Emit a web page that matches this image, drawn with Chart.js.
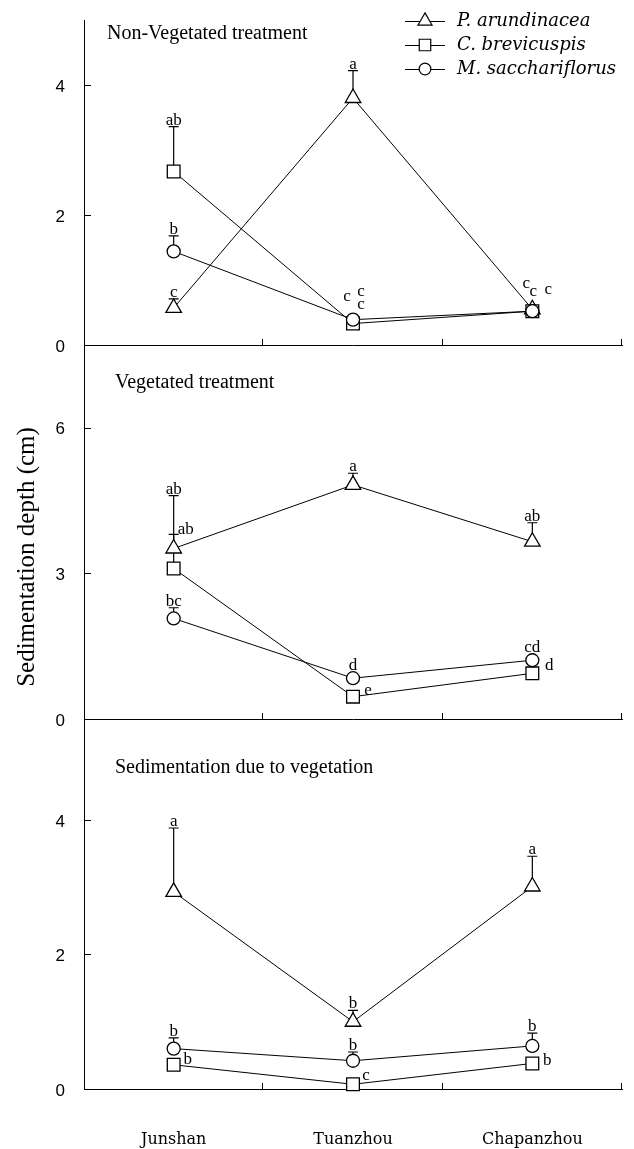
<!DOCTYPE html>
<html>
<head>
<meta charset="utf-8">
<script src="https://cdn.jsdelivr.net/npm/chart.js@4.4.0/dist/chart.umd.min.js"></script>
<style>
    html, body { margin: 0; padding: 0; background: #fff; }
    #wrap { position: relative; width: 634px; height: 1149px; }
    #wrap canvas { position: absolute; left: 0; top: 0; }
</style>
</head>
<body>
<div id="wrap">
    <canvas id="nonVeg" width="634" height="1149"></canvas>
    <canvas id="veg" width="634" height="1149"></canvas>
    <canvas id="due" width="634" height="1149"></canvas>
</div>
<script>
const sites = ["Junshan", "Tuanzhou", "Chapanzhou"];
const species = ["P. arundinacea", "C. brevicuspis", "M. sacchariflorus"];

// non-vegetated treatment
const nonVegP = [0.57, 3.80, 0.55];
const nonVegC = [2.67, 0.33, 0.52];
const nonVegM = [1.44, 0.39, 0.52];
const nonVegErrP = [0.71, 4.22, null]; // top of the error bar
const nonVegErrC = [3.36, null, null];
const nonVegErrM = [1.68, null, null];
const nonVegLetP = ["c", "a", "c"];
const nonVegLetC = ["ab", "c", "c"];
const nonVegLetM = ["b", "c\nc", "c"];
const nonVegTicks = [0, 2, 4];

// vegetated treatment
const vegP = [3.51, 4.82, 3.65];
const vegC = [3.10, 0.46, 0.94];
const vegM = [2.07, 0.84, 1.21];
const vegErrP = [4.60, 5.06, 4.04];
const vegErrC = [3.80, null, null];
const vegErrM = [2.29, null, null];
const vegLetP = ["ab", "a", "ab"];
const vegLetC = ["ab", "e", "d"];
const vegLetM = ["bc", "d", "cd"];
const vegTicks = [0, 3, 6];

// sedimentation due to vegetation
const dueP = [2.93, 1.00, 3.01];
const dueC = [0.36, 0.07, 0.38];
const dueM = [0.60, 0.42, 0.64];
const dueErrP = [3.88, 1.17, 3.46];
const dueErrC = [null, null, null];
const dueErrM = [0.76, 0.55, 0.83];
const dueLetP = ["a", "b", "a"];
const dueLetC = ["b", "c", "b"];
const dueLetM = ["b", "b", "b"];
const dueTicks = [0, 2, 4];

const pointStyles = ["triangle", "rect", "circle"];
const pointRadii = [9, 9, 6.5];
const drawOrder = [2, 1, 0];

const SERIF = "'Liberation Serif', 'Times New Roman', serif";

const decor = {
    id: "decor",

    beforeDatasetsDraw(chart, args, opts) {
        const { ctx } = chart;
        const x = chart.scales.x;
        const y = chart.scales.y;

        ctx.save();
        ctx.strokeStyle = "#000";
        ctx.lineWidth = 1.2;
        opts.errors.forEach((tops, i) => {
            const vals = chart.data.datasets[i].data;
            tops.forEach((top, j) => {
                if (top == null) return;
                const px = x.getPixelForValue(j);
                const y1 = y.getPixelForValue(top);
                ctx.beginPath();
                ctx.moveTo(px, y.getPixelForValue(vals[j]));
                ctx.lineTo(px, y1);
                ctx.moveTo(px - 5, y1);
                ctx.lineTo(px + 5, y1);
                ctx.stroke();
            });
        });
        ctx.restore();
    },

    afterDraw(chart, args, opts) {
        const { ctx, chartArea } = chart;
        const x = chart.scales.x;
        const y = chart.scales.y;

        ctx.save();
        ctx.strokeStyle = "#000";
        ctx.fillStyle = "#000";
        ctx.lineWidth = 1;

        // ticks pointing inward
        ctx.beginPath();
        y.ticks.forEach((t) => {
            const py = Math.round(y.getPixelForValue(t.value)) + 0.5;
            ctx.moveTo(chartArea.left, py);
            ctx.lineTo(chartArea.left + 7, py);
        });
        sites.forEach((s, j) => {
            const px = Math.round(x.getPixelForValue(j + 0.5)) - 0.5;
            ctx.moveTo(px, chartArea.bottom);
            ctx.lineTo(px, chartArea.bottom - 6);
        });
        ctx.stroke();

        // significance letters
        ctx.font = "17px " + SERIF;
        opts.letters.forEach((row, i) => {
            const vals = chart.data.datasets[i].data;
            row.forEach((text, j) => {
                if (!text) return;
                const px = x.getPixelForValue(j);
                const py = y.getPixelForValue(vals[j]);
                const off = opts.offsets[i + ":" + j];
                ctx.textAlign = "center";
                if (off) {
                    ctx.textBaseline = "middle";
                    text.split("\n").forEach((line, k) => {
                        ctx.fillText(line, px + off.dx, py + off.dy + k * 13);
                    });
                } else {
                    const top = opts.errors[i][j];
                    const anchor = top != null ? y.getPixelForValue(top) : py - pointRadii[i];
                    ctx.textBaseline = "alphabetic";
                    ctx.fillText(text, px, anchor - 2);
                }
            });
        });

        // panel title
        ctx.font = "20px " + SERIF;
        ctx.textAlign = "left";
        ctx.textBaseline = "alphabetic";
        ctx.fillText(opts.title, opts.titleX, opts.titleY);

        if (opts.yTitle) {
            ctx.save();
            ctx.translate(27, 557);
            ctx.rotate(-Math.PI / 2);
            ctx.font = "25px " + SERIF;
            ctx.textAlign = "center";
            ctx.textBaseline = "middle";
            ctx.fillText(opts.yTitle, 0, 0);
            ctx.restore();
        }

        if (opts.legend) {
            chart.data.datasets.forEach((ds, i) => {
                const ry = 21 + i * 24;
                ctx.beginPath();
                ctx.moveTo(405, ry + 0.5);
                ctx.lineTo(445, ry + 0.5);
                ctx.stroke();
                ctx.fillStyle = "#fff";
                ctx.lineWidth = 1.2;
                Chart.helpers.drawPoint(ctx, {
                    pointStyle: ds.pointStyle,
                    radius: ds.pointRadius * 0.9,
                    borderWidth: 1.2,
                }, 425, ry);
                ctx.fillStyle = "#000";
                ctx.lineWidth = 1;
                ctx.font = "italic 18px 'DejaVu Serif', serif";
                ctx.textAlign = "left";
                ctx.textBaseline = "middle";
                ctx.fillText(ds.label, 457, ry);
            });
        }
        ctx.restore();
    },
};

function makePanel(id, cfg) {
    const xHeight = cfg.showX ? 59 : 0;

    new Chart(document.getElementById(id), {
        type: "line",

        data: {
            labels: sites,

            datasets: species.map((name, i) => ({
                label: name,
                data: cfg.values[i],
                borderColor: "#000",
                borderWidth: 1,
                pointStyle: pointStyles[i],
                pointRadius: pointRadii[i],
                pointHoverRadius: pointRadii[i],
                pointBackgroundColor: "#fff",
                pointBorderColor: "#000",
                pointBorderWidth: 1.3,
                tension: 0,
                fill: false,
                clip: false,
                order: drawOrder[i],
            })),
        },

        options: {
            responsive: false,
            animation: false,
            events: [],

            layout: {
                padding: {
                    top: cfg.top,
                    bottom: 1149 - cfg.bottom - xHeight,
                    left: 0,
                    right: 12,
                },
            },

            plugins: {
                legend: { display: false },
                tooltip: { enabled: false },
                decor: {
                    errors: cfg.errors,
                    letters: cfg.letters,
                    offsets: cfg.offsets,
                    title: cfg.title,
                    titleX: cfg.titleX,
                    titleY: cfg.titleY,
                    yTitle: cfg.yTitle,
                    legend: cfg.legend,
                },
            },

            scales: {
                x: {
                    type: "category",
                    offset: true,
                    afterFit: (axis) => { axis.height = xHeight; },
                    grid: { display: true, drawOnChartArea: false, drawTicks: false },
                    border: { display: true, color: "#000", width: 1 },
                    ticks: {
                        display: !!cfg.showX,
                        padding: 41,
                        maxRotation: 0,
                        autoSkip: false,
                        color: "#000",
                        font: { family: "'DejaVu Serif', serif", size: 16 },
                    },
                },

                y: {
                    min: 0,
                    max: cfg.max,
                    afterFit: (axis) => {
                        axis.width = 84;
                        axis.paddingTop = 0;
                        axis.paddingBottom = 0;
                    },
                    afterBuildTicks: (axis) => {
                        axis.ticks = cfg.ticks.map((v) => ({ value: v }));
                    },
                    grid: { display: true, drawOnChartArea: false, drawTicks: false },
                    border: { display: true, color: "#000", width: 1 },
                    ticks: {
                        padding: 19,
                        labelOffset: 2,
                        color: "#000",
                        font: { family: "'Liberation Sans', Arial, sans-serif", size: 17 },
                    },
                },
            },
        },

        plugins: [decor],
    });
}

makePanel("nonVeg", {
    top: 20, bottom: 345, max: 5, ticks: nonVegTicks,
    values: [nonVegP, nonVegC, nonVegM],
    errors: [nonVegErrP, nonVegErrC, nonVegErrM],
    letters: [nonVegLetP, nonVegLetC, nonVegLetM],
    offsets: {
        "1:1": { dx: -6, dy: -27 },
        "2:1": { dx: 8, dy: -28 },
        "0:2": { dx: -6, dy: -26 },
        "1:2": { dx: 1, dy: -20 },
        "2:2": { dx: 16, dy: -22 },
    },
    title: "Non-Vegetated treatment", titleX: 107, titleY: 39,
    legend: true,
});

makePanel("veg", {
    top: 345, bottom: 719, max: 7.7, ticks: vegTicks,
    values: [vegP, vegC, vegM],
    errors: [vegErrP, vegErrC, vegErrM],
    letters: [vegLetP, vegLetC, vegLetM],
    offsets: {
        "1:0": { dx: 12, dy: -39 },
        "1:1": { dx: 15, dy: -6 },
        "1:2": { dx: 17, dy: -8 },
    },
    title: "Vegetated treatment", titleX: 115, titleY: 388,
    yTitle: "Sedimentation depth (cm)",
});

makePanel("due", {
    top: 719, bottom: 1089, max: 5.5, ticks: dueTicks,
    values: [dueP, dueC, dueM],
    errors: [dueErrP, dueErrC, dueErrM],
    letters: [dueLetP, dueLetC, dueLetM],
    offsets: {
        "1:0": { dx: 14, dy: -5 },
        "1:1": { dx: 13, dy: -9 },
        "1:2": { dx: 15, dy: -3 },
    },
    title: "Sedimentation due to vegetation", titleX: 115, titleY: 773,
    showX: true,
});
</script>
</body>
</html>
